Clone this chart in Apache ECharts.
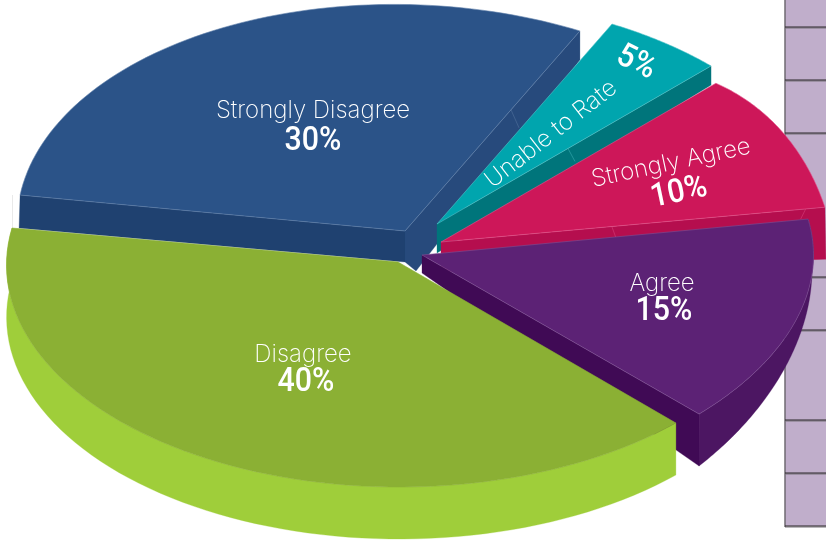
<!DOCTYPE html>
<html><head><meta charset="utf-8">
<style>html,body{margin:0;padding:0;background:#fff}#c{width:826px;height:541px}</style>
<script src="https://cdn.jsdelivr.net/npm/echarts@6/dist/echarts.min.js"></script>
</head><body><div id="c"></div>
<script>
// data (listed back to front)
const categories = ['Strongly Disagree', 'Unable to Rate', 'Strongly Agree', 'Agree', 'Disagree'];
const shares = [30, 5, 10, 15, 40];
const gridRows = [27, 80, 133, 277, 330, 420, 473, 526];

// layout: affine frame of each slice's rim, apex, colours, side faces
const looks = [
 {frame:{c:[411.2,234.2],e:[-189.2,-206.2],f:[346,-101.4]}, apex:[405,231], top:'#2b5388', edge:'#6282ab',
  cuts:[{side:-1,fill:'#1f4170',drop:[-1,33],below:[[0,31]]},
        {side:1,fill:'#274a7c',drop:[0,29],below:[[11,40],[0,31]],seams:[[.606,8,18]]}],
  label:[313,111,0,313,142,0]},
 {frame:{c:[440.3,221.8],e:[224,-179],f:[316.5,134]}, apex:[437,224], top:'#00a5ae', edge:'#52c2c7',
  cuts:[{side:1,fill:'#00757b',drop:[0,19],below:[[0,29]],seams:[[.478,7,13]]}],
  label:[551,134,38,636,63,-26]},
 {frame:{c:[537,402],e:[245.4,-270],f:[176.4,200.6]}, apex:[441,242], top:'#cd1759', edge:'#e4558d',
  cuts:[{side:1,fill:'#b50e4e',drop:[1,52],below:[[0,30]],seams:[[.445,4,11],[.95,-5,10]]}],
  label:[671,163,12,679,193,12]},
 {frame:{c:[415,272],e:[380,50],f:[-120,214.8]}, apex:[422,255], top:'#5c2275', edge:'#7d4f94',
  rimWall:{c:[539,327],e:[243,46],f:[-124.4,215.9],fill:'#4c1662'},
  cuts:[{side:1,fill:'#400a55',drop:[0,52],below:[[0,18]]}],
  label:[662,284,0,664,312,0]},
 {frame:{c:[400.3,264.5],e:[-182.3,197.5],f:[-349,-102.5]}, apex:[398,262], top:'#8bb034', edge:'#8bb034',
  rimWall:{c:[400.3,316.5],e:[-182.3,197.5],f:[-349,-102.5],fill:'#9fce3a'},
  cuts:[], label:[303,355,0,306,383,0]}
];

function rim(fr, half){
  const pts=[], n=72;
  for(let i=0;i<=n;i++){
    const s=-half+2*half*i/n;
    pts.push([fr.c[0]+fr.e[0]*Math.cos(s)+fr.f[0]*Math.sin(s),
              fr.c[1]+fr.e[1]*Math.cos(s)+fr.f[1]*Math.sin(s)]);
  }
  return pts;
}
function renderSlice(params, api){
  const look=looks[params.dataIndex], value=api.value(0);
  const half=value/100*Math.PI, arc=rim(look.frame,half), kids=[];
  const poly=(points,fill,stroke)=>kids.push({type:'polygon',shape:{points},
    style:{fill,stroke:stroke||fill,lineWidth:stroke?0.6:0.3}});
  if(look.rimWall){
    const low=rim(look.rimWall,half).reverse();
    poly(arc.concat(low),look.rimWall.fill);
  }
  look.cuts.forEach(cut=>{
    const end=cut.side<0?arc[0]:arc[arc.length-1], a=look.apex;
    const pts=[a,end,[end[0]+cut.drop[0],end[1]+cut.drop[1]]]
      .concat(cut.below.map(b=>[a[0]+b[0],a[1]+b[1]]));
    poly(pts,cut.fill);
  });
  poly([look.apex].concat(arc),look.top,look.edge);
  look.cuts.forEach(cut=>{
    const end=cut.side<0?arc[0]:arc[arc.length-1], a=look.apex;
    (cut.seams||[]).forEach(m=>{
      const x=a[0]+(end[0]-a[0])*m[0], y=a[1]+(end[1]-a[1])*m[0];
      kids.push({type:'line',shape:{x1:x,y1:y,x2:x+m[1],y2:y+m[2]},style:{stroke:look.edge,lineWidth:0.6,opacity:.7}});
    });
  });
  const L=look.label, txt=(s,x,y,deg,font,sx)=>kids.push({type:'text',x,y,rotation:deg*Math.PI/180,scaleX:sx,
    style:{text:s,x:0,y:0,align:'center',verticalAlign:'middle',fill:'#fff',font}});
  txt(categories[params.dataIndex],L[0],L[1],L[2],'200 24px Inter',1);
  txt(value+'%',L[3],L[4],L[5],'500 33px Roboto',0.92);
  return {type:'group',children:kids};
}

const panel=[{type:'rect',shape:{x:785,y:0,width:41,height:526},style:{fill:'#c0aecb'}},
  {type:'line',shape:{x1:785,y1:0,x2:785,y2:527},style:{stroke:'#6f6a72',lineWidth:1.5}},
  {type:'line',shape:{x1:12.5,y1:195,x2:12.5,y2:228},style:{stroke:'#e9e9e9',lineWidth:1}}];
gridRows.forEach(y=>{
  panel.push({type:'line',shape:{x1:785,y1:y+1,x2:826,y2:y+1},style:{stroke:'#77727a',lineWidth:1}});
  panel.push({type:'line',shape:{x1:785,y1:y,x2:826,y2:y},style:{stroke:'#2a2629',lineWidth:1}});
});

const chart=echarts.init(document.getElementById('c'),null,{renderer:'canvas'});
chart.setOption({
  animation:false,
  backgroundColor:'#fff',
  graphic:{elements:panel},
  series:[{type:'custom',coordinateSystem:'none',renderItem:renderSlice,encode:{value:0},
    data:shares.map((v,i)=>({name:categories[i],value:[v]})),silent:true}]
});
</script></body></html>
